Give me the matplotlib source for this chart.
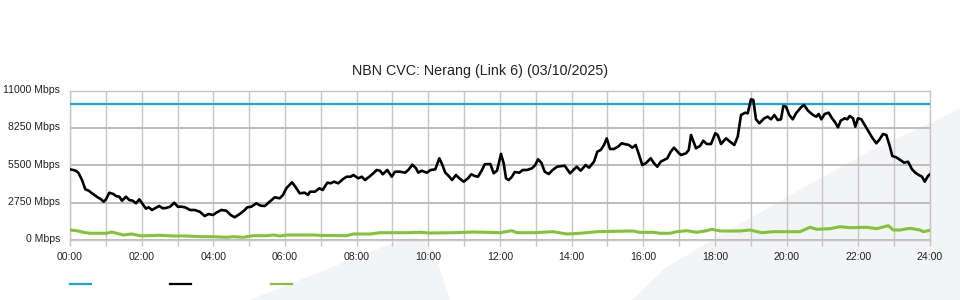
import matplotlib
matplotlib.use("Agg")
import matplotlib.pyplot as plt
from matplotlib.lines import Line2D
from matplotlib.patches import Polygon
from matplotlib.transforms import ScaledTranslation

plt.rcParams['font.family'] = ['Liberation Sans', 'DejaVu Sans']

title = "NBN CVC: Nerang (Link 6) (03/10/2025)"

# Capacity (blue)
capacity_hours = [0, 24]
capacity_mbps = [10000, 10000]

# Traffic (black)
traffic_hours = [
    0.0, 0.167, 0.243, 0.335, 0.427, 0.522, 0.614, 0.773, 0.865, 0.940,
    1.005, 1.097, 1.208, 1.284, 1.376, 1.451, 1.563, 1.655, 1.750, 1.842,
    1.934, 2.029, 2.121, 2.196, 2.288, 2.400, 2.492, 2.587, 2.679, 2.791,
    2.911, 3.006, 3.126, 3.237, 3.349, 3.480, 3.620, 3.759, 3.871, 3.991,
    4.083, 4.222, 4.362, 4.485, 4.596, 4.736, 4.856, 4.948, 5.060, 5.199,
    5.322, 5.434, 5.573, 5.713, 5.852, 5.944, 6.036, 6.195, 6.288, 6.410,
    6.550, 6.642, 6.698, 6.837, 6.957, 7.052, 7.181, 7.275, 7.368, 7.488,
    7.610, 7.722, 7.834, 7.906, 8.046, 8.141, 8.233, 8.353, 8.464, 8.559,
    8.651, 8.727, 8.855, 8.978, 9.070, 9.209, 9.349, 9.441, 9.553, 9.656,
    9.720, 9.815, 9.955, 10.066, 10.195, 10.306, 10.381, 10.474, 10.568, 10.661,
    10.772, 10.864, 10.987, 11.107, 11.199, 11.294, 11.386, 11.498, 11.573, 11.730,
    11.824, 11.916, 12.028, 12.103, 12.167, 12.243, 12.335, 12.410, 12.539, 12.634,
    12.754, 12.893, 12.985, 13.061, 13.153, 13.248, 13.359, 13.471, 13.591, 13.806,
    13.954, 14.018, 14.141, 14.252, 14.392, 14.484, 14.623, 14.716, 14.810, 14.903,
    14.978, 15.070, 15.182, 15.293, 15.396, 15.508, 15.600, 15.692, 15.787, 15.851,
    15.971, 16.066, 16.206, 16.298, 16.390, 16.485, 16.669, 16.764, 16.856, 16.996,
    17.052, 17.191, 17.267, 17.331, 17.470, 17.582, 17.674, 17.769, 17.889, 18.009,
    18.076, 18.168, 18.307, 18.419, 18.539, 18.634, 18.726, 18.846, 18.913, 19.005,
    19.069, 19.144, 19.237, 19.376, 19.471, 19.563, 19.655, 19.750, 19.842, 19.906,
    19.981, 20.074, 20.169, 20.261, 20.401, 20.484, 20.596, 20.735, 20.827, 20.894,
    20.967, 21.062, 21.173, 21.265, 21.341, 21.433, 21.508, 21.620, 21.692, 21.759,
    21.851, 21.916, 21.991, 22.083, 22.178, 22.290, 22.381, 22.502, 22.596, 22.688,
    22.781, 22.876, 22.948, 23.060, 23.199, 23.274, 23.386, 23.498, 23.590, 23.685,
    23.777, 23.852, 23.944, 24.0,
]
traffic_mbps = [
    5209, 5106, 4914, 4421, 3735, 3632, 3441, 3146, 2999, 2822,
    2999, 3485, 3389, 3242, 3190, 2896, 3190, 2947, 2896, 2704,
    2999, 2652, 2306, 2409, 2210, 2380, 2505, 2336, 2358, 2453,
    2748, 2453, 2453, 2380, 2210, 2210, 2085, 1768, 1916, 1842,
    2011, 2210, 2159, 1842, 1673, 1916, 2159, 2409, 2453, 2704,
    2527, 2505, 2822, 3146, 3072, 3316, 3809, 4251, 3927, 3441,
    3485, 3316, 3559, 3559, 3809, 3684, 4222, 4178, 4296, 4178,
    4472, 4664, 4664, 4789, 4546, 4664, 4421, 4664, 4914, 5158,
    5106, 4841, 5158, 4664, 5032, 5032, 4959, 5158, 5548, 5283,
    4959, 5106, 4959, 5158, 5209, 6020, 5600, 4959, 4716, 4421,
    4789, 4546, 4296, 4546, 4841, 4716, 4664, 5158, 5578, 5600,
    4914, 5106, 6336, 5651, 4546, 4421, 4664, 5010, 4959, 5158,
    5158, 5283, 5526, 5946, 5695, 5032, 4863, 5158, 5401, 5474,
    4914, 5084, 5401, 5106, 5526, 5327, 5769, 6506, 6631, 7000,
    7493, 6705, 6705, 6874, 7125, 7051, 7000, 6801, 7000, 6506,
    5526, 5651, 6020, 5651, 5401, 5769, 6020, 6506, 6801, 6388,
    6263, 6388, 6631, 7736, 6756, 6926, 7316, 7073, 7073, 7862,
    7736, 7073, 7493, 7243, 7000, 7611, 9210, 9380, 9335, 10367,
    10315, 8893, 8599, 8967, 9085, 8893, 9210, 8842, 8893, 9873,
    9822, 9210, 8893, 9335, 9777, 9947, 9527, 9210, 9085, 9284,
    8893, 9284, 9380, 8967, 8716, 8304, 8790, 8967, 8893, 9136,
    8967, 8348, 8967, 8893, 8473, 7980, 7567, 7125, 7420, 7810,
    7736, 6926, 6189, 6093, 5843, 5695, 5769, 5209, 4959, 4789,
    4664, 4296, 4716, 4841,
]

# Traffic (green)
green_hours = [
    0.0, 0.187, 0.371, 0.558, 1.024, 1.164, 1.303, 1.487, 1.722, 1.954,
    2.140, 2.512, 2.883, 3.257, 3.628, 3.999, 4.373, 4.557, 4.836, 5.115,
    5.489, 5.674, 5.861, 6.048, 6.419, 6.790, 6.977, 7.722, 7.906, 8.372,
    8.651, 9.396, 9.768, 10.047, 10.697, 11.255, 12.000, 12.327, 12.466, 12.929,
    13.488, 13.860, 14.233, 14.699, 15.162, 15.720, 15.907, 16.279, 16.465, 16.744,
    16.931, 17.210, 17.489, 17.768, 17.908, 18.140, 18.698, 18.977, 19.304, 19.627,
    20.372, 20.651, 20.838, 21.209, 21.488, 21.767, 22.233, 22.512, 22.836, 22.976,
    23.163, 23.442, 23.721, 23.813, 24.0,
]
green_mbps = [
    737, 685, 567, 494, 494, 589, 494, 368, 442, 317,
    317, 346, 295, 295, 243, 243, 199, 243, 199, 317,
    317, 368, 295, 368, 368, 368, 340, 317, 442, 442,
    538, 538, 567, 516, 538, 589, 538, 685, 538, 538,
    612, 442, 494, 612, 641, 663, 560, 567, 494, 494,
    612, 685, 567, 685, 788, 663, 663, 737, 538, 612,
    612, 936, 788, 833, 980, 906, 936, 833, 1054, 737,
    737, 862, 737, 612, 715,
]

y_ticks = [0, 2750, 5500, 8250, 11000]
y_tick_labels = [f"{v} Mbps" for v in y_ticks]
x_major = list(range(0, 25, 2))
x_major_labels = [f"{h:02d}:00" for h in x_major]
x_minor = list(range(1, 24, 2))

BLUE = "#1ea2e0"
BLACK = "#000000"
GREEN = "#84c23a"
GRID = "#c6c6c6"

fig = plt.figure(figsize=(9.6, 3.0), dpi=100)
fig.patch.set_facecolor("white")

# light background watermark shapes
W, H = 960.0, 300.0
def fpoly(pts):
    return Polygon([(x / W, 1 - y / H) for x, y in pts], closed=True,
                   transform=fig.transFigure, facecolor="#f3f4f6",
                   edgecolor="none", zorder=0)
fig.patches.append(fpoly([(250, 300), (320, 272), (375, 250), (398, 241),
                          (412, 238), (424, 240), (432, 250), (442, 275),
                          (450, 300)]))
fig.patches.append(fpoly([(632, 300), (665, 268), (740, 224), (801, 189),
                          (870, 151), (935, 121), (960, 108), (960, 300)]))

ax = fig.add_axes([70 / W, 60 / H, 860 / W, 149.3 / H])
ax.set_facecolor("none")
ax.set_zorder(2)

ax.plot(capacity_hours, capacity_mbps, color=BLUE, lw=1.6, zorder=4,
        solid_capstyle="butt")
ax.plot(traffic_hours, traffic_mbps, color=BLACK, lw=1.9, zorder=5,
        solid_joinstyle="round")
ax.plot(green_hours, green_mbps, color=GREEN, lw=2.2, zorder=5,
        solid_joinstyle="round")

ax.set_xlim(0, 24)
ax.set_ylim(0, 11000)
ax.set_yticks(y_ticks)
ax.set_yticklabels(y_tick_labels)
ax.set_xticks(x_major)
ax.set_xticklabels(x_major_labels)
ax.set_xticks(x_minor, minor=True)

ax.grid(True, which="both", axis="x", color=GRID, lw=1.0, zorder=1)
ax.grid(True, which="major", axis="y", color="#bdbdbd", lw=1.4, zorder=1)
for s in ax.spines.values():
    s.set_color(GRID)
    s.set_linewidth(1.0)

ax.tick_params(axis="y", length=0, pad=7, labelsize=7.6, labelcolor="#222222")
ax.tick_params(axis="x", which="both", length=4, width=1.0, color=GRID,
               pad=5, labelsize=7.6, labelcolor="#222222")
shift = ScaledTranslation(0, 0.018, fig.dpi_scale_trans)
for lab in ax.get_yticklabels():
    lab.set_transform(lab.get_transform() + shift)

fig.text(480 / W, 1 - 71 / H, title, ha="center", va="center",
         fontsize=10.3, color="#222222")

handles = [Line2D([], [], color=BLUE, lw=1.6),
           Line2D([], [], color=BLACK, lw=1.6),
           Line2D([], [], color=GREEN, lw=1.6)]
fig.legend(handles, ["", "", ""], ncol=3, loc="center left",
           bbox_to_anchor=(70 / W, 1 - 285 / H), bbox_transform=fig.transFigure,
           frameon=False, borderpad=0, borderaxespad=0, fontsize=7.6,
           handlelength=2.0, handletextpad=0, columnspacing=7.5)

fig.savefig("out.png", dpi=100, facecolor="white")
